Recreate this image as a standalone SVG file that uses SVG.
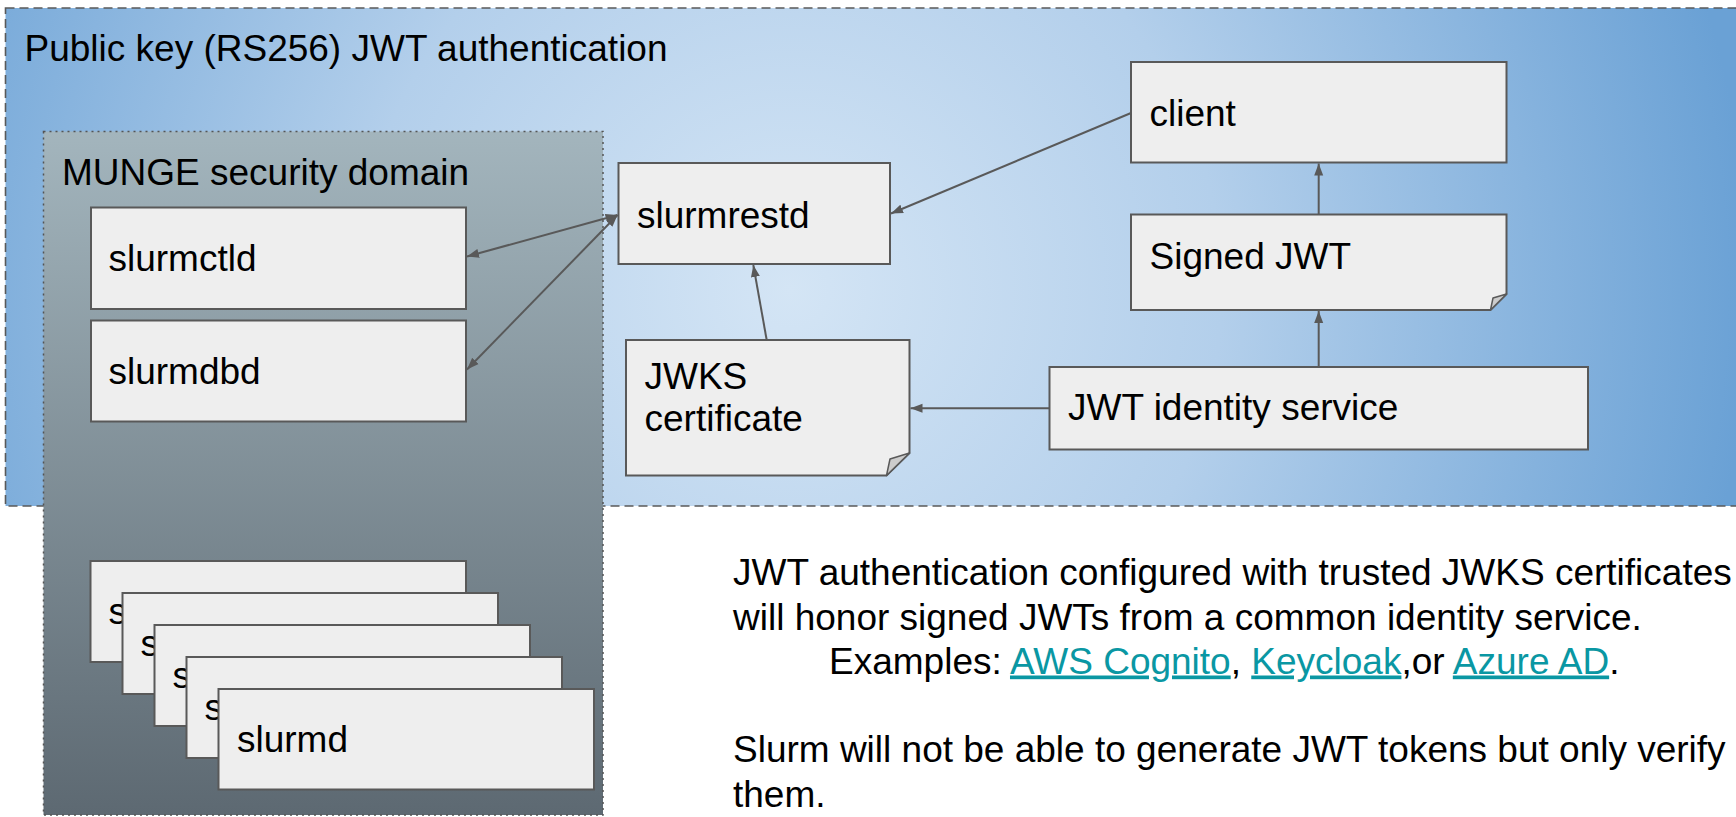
<svg xmlns="http://www.w3.org/2000/svg" width="1736" height="817" viewBox="0 0 1736 817">
<defs>
<radialGradient id="gOuter" gradientUnits="userSpaceOnUse" cx="790" cy="290" r="960">
<stop offset="0" stop-color="#d4e5f5"/>
<stop offset="0.45" stop-color="#b3cfeb"/>
<stop offset="1" stop-color="#6aa1d5"/>
</radialGradient>
<linearGradient id="gMunge" x1="0" y1="0" x2="0" y2="1">
<stop offset="0" stop-color="#a3b5bd"/>
<stop offset="1" stop-color="#5d6972"/>
</linearGradient>
<marker id="arr" markerUnits="userSpaceOnUse" markerWidth="13" markerHeight="10" refX="12" refY="4.5" orient="auto-start-reverse" viewBox="0 0 13 9">
<path d="M0,0 L12,4.5 L0,9 Z" fill="#595959"/>
</marker>
<style>
.t{font-family:"Liberation Sans",Arial,sans-serif;font-size:37px;fill:#000}
.box{fill:#eeeeee;stroke:#595959;stroke-width:2}
.fold{fill:#cccccc;stroke:#595959;stroke-width:1.5;stroke-linejoin:round}
.c{stroke:#595959;stroke-width:2;fill:none;marker-end:url(#arr)}
.lnk{fill:#0a97a3;text-decoration:underline}
</style>
</defs>
<g id="jwt-domain">
<rect x="5.5" y="8" width="1745" height="498" fill="url(#gOuter)" stroke="#595959" stroke-width="1.6" stroke-dasharray="9 5"/>
<text class="t" x="24.5" y="61">Public key (RS256) JWT authentication</text>
</g>
<g id="munge-domain">
<rect x="43.5" y="131.5" width="559.5" height="683.5" fill="url(#gMunge)" stroke="#555555" stroke-width="1.5" stroke-dasharray="2 4"/>
<text class="t" x="62" y="185">MUNGE security domain</text>
</g>
<g id="slurmctld">
<rect class="box" x="91" y="207.5" width="375" height="101.5"/>
<text class="t" x="108.5" y="271">slurmctld</text>
</g>
<g id="slurmdbd">
<rect class="box" x="91" y="320.5" width="375" height="101"/>
<text class="t" x="108.5" y="384">slurmdbd</text>
</g>
<g id="slurmd-1">
<rect class="box" x="90.5" y="561" width="375.5" height="101"/>
<text class="t" x="108.5" y="624">s</text>
</g>
<g id="slurmd-2">
<rect class="box" x="122.5" y="593" width="375.5" height="101"/>
<text class="t" x="140.5" y="656">s</text>
</g>
<g id="slurmd-3">
<rect class="box" x="154.5" y="625" width="375.5" height="101"/>
<text class="t" x="172.5" y="688">s</text>
</g>
<g id="slurmd-4">
<rect class="box" x="186.5" y="657" width="375.5" height="101"/>
<text class="t" x="204.5" y="720">s</text>
</g>
<g id="slurmd-5">
<rect class="box" x="218.5" y="689" width="375.5" height="100.5"/>
<text class="t" x="237" y="752">slurmd</text>
</g>
<g id="slurmrestd">
<rect class="box" x="618.5" y="163" width="271.5" height="101"/>
<text class="t" x="637" y="228">slurmrestd</text>
</g>
<g id="jwks-certificate">
<path class="box" d="M626,340 H909.5 V453 L886.5,475.5 H626 Z"/>
<path class="fold" d="M886.5,475.5 L909.5,453 L890,459 Z"/>
<text class="t" x="644.5" y="389">JWKS</text>
<text class="t" x="644.5" y="431">certificate</text>
</g>
<g id="client">
<rect class="box" x="1131" y="62" width="375.5" height="100.5"/>
<text class="t" x="1149.5" y="126">client</text>
</g>
<g id="signed-jwt">
<path class="box" d="M1131,214.5 H1506.5 V294 L1490.5,310 H1131 Z"/>
<path class="fold" d="M1490.5,310 L1506.5,294 L1493,298 Z"/>
<text class="t" x="1149.5" y="268.5">Signed JWT</text>
</g>
<g id="jwt-identity-service">
<rect class="box" x="1049.5" y="367" width="538.5" height="82.5"/>
<text class="t" x="1068" y="420">JWT identity service</text>
</g>
<g id="connectors">
<line class="c" x1="1131" y1="113" x2="891" y2="213.5"/>
<line class="c" x1="617.5" y1="215" x2="467" y2="256.5" marker-start="url(#arr)"/>
<line class="c" x1="617.5" y1="215" x2="467" y2="369.5" marker-start="url(#arr)"/>
<line class="c" x1="766.7" y1="340" x2="753.3" y2="265"/>
<line class="c" x1="1049.5" y1="408.3" x2="910.5" y2="408.3"/>
<line class="c" x1="1318.7" y1="367" x2="1318.7" y2="311"/>
<line class="c" x1="1318.7" y1="214.5" x2="1318.7" y2="163.5"/>
</g>
<g id="notes">
<text class="t" x="733" y="585">JWT authentication configured with trusted JWKS certificates</text>
<text class="t" x="733" y="630">will honor signed JWTs from a common identity service.</text>
<text class="t" x="829" y="673.5">Examples: <tspan class="lnk">AWS Cognito</tspan>, <tspan class="lnk">Keycloak</tspan>,or <tspan class="lnk">Azure AD</tspan>.</text>
<text class="t" x="733" y="762">Slurm will not be able to generate JWT tokens but only verify</text>
<text class="t" x="733" y="807">them.</text>
</g>
</svg>
